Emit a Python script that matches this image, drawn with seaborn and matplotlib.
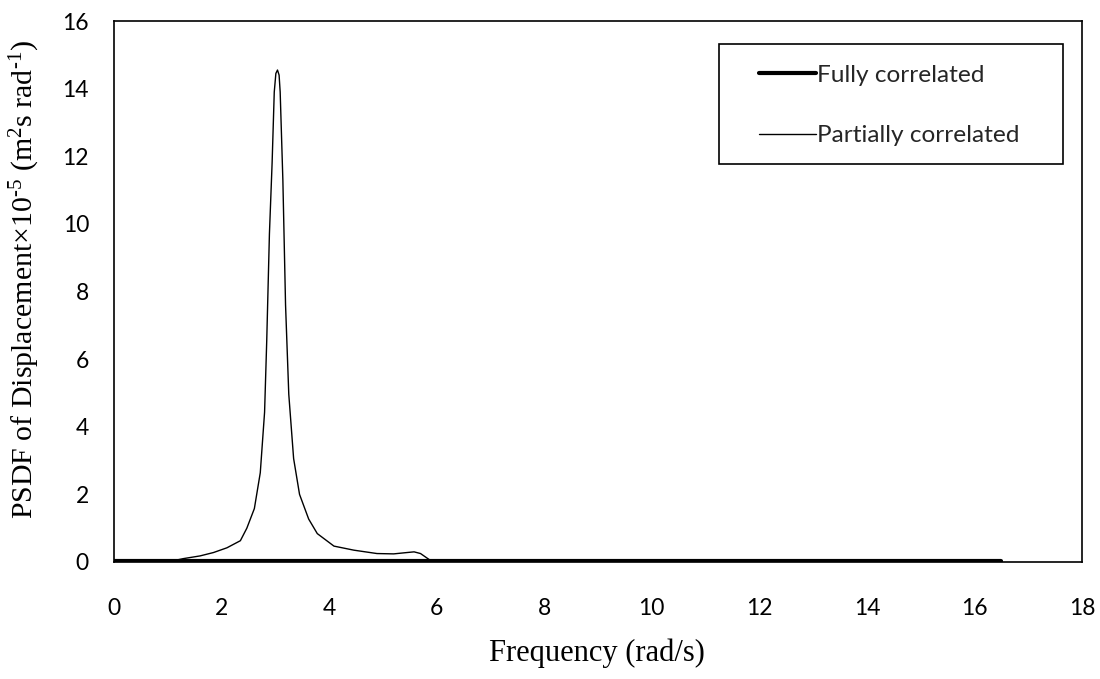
import matplotlib
matplotlib.use("Agg")
import matplotlib.pyplot as plt
import matplotlib.patches as mpatches
import seaborn as sns
import pandas as pd

# ---- data ----
freq_partial = [0.0, 0.5, 1.0, 1.11, 1.29, 1.60, 1.85, 2.10, 2.35, 2.47, 2.61, 2.72, 2.80,
                2.84, 2.89, 2.94, 2.98, 3.01, 3.04, 3.07, 3.09, 3.14, 3.19, 3.25, 3.34,
                3.45, 3.62, 3.78, 4.09, 4.46, 4.89, 5.20, 5.45, 5.58, 5.70, 5.89, 6.2,
                8.0, 10.0, 12.0, 14.0, 16.5]
psd_partial = [0.02, 0.02, 0.02, 0.04, 0.10, 0.18, 0.28, 0.42, 0.63, 1.00, 1.58, 2.64, 4.43,
               6.54, 9.70, 11.8, 13.9, 14.45, 14.55, 14.4, 13.9, 11.3, 7.6, 4.96, 3.06,
               2.00, 1.27, 0.84, 0.47, 0.35, 0.25, 0.24, 0.28, 0.30, 0.25, 0.04, 0.02,
               0.02, 0.02, 0.02, 0.02, 0.02]
freq_full = [0.0, 2.0, 4.0, 6.0, 8.0, 10.0, 12.0, 14.0, 16.5]
psd_full = [0.03, 0.03, 0.03, 0.03, 0.03, 0.03, 0.03, 0.03, 0.03]

x_ticks = [0, 2, 4, 6, 8, 10, 12, 14, 16, 18]
y_ticks = [0, 2, 4, 6, 8, 10, 12, 14, 16]

df_full = pd.DataFrame({"freq": freq_full, "psd": psd_full})
df_part = pd.DataFrame({"freq": freq_partial, "psd": psd_partial})

sns.set_theme(style="white")
sans = ["Lato", "DejaVu Sans"]
serif = ["Liberation Serif", "DejaVu Serif"]
plt.rcParams["font.family"] = sans
plt.rcParams["mathtext.fontset"] = "custom"
plt.rcParams["mathtext.rm"] = "Liberation Serif"
plt.rcParams["mathtext.it"] = "Liberation Serif:italic"

W, H = 1100, 679
fig = plt.figure(figsize=(11, 6.79), dpi=100)
L, R, T, B = 114, 1082, 21, 562
ax = fig.add_axes([L / W, 1 - B / H, (R - L) / W, (B - T) / H])

sns.lineplot(data=df_full, x="freq", y="psd", ax=ax, color="black", linewidth=3.0,
             label="Fully correlated", estimator=None, sort=False)
sns.lineplot(data=df_part, x="freq", y="psd", ax=ax, color="black", linewidth=1.0,
             label="Partially correlated", estimator=None, sort=False)

ax.set_xlim(0, 18)
ax.set_ylim(0, 16)
ax.set_xticks(x_ticks)
ax.set_yticks(y_ticks)
ax.tick_params(axis="x", length=0, labelsize=16.5, colors="black", pad=26)
ax.tick_params(axis="y", length=0, labelsize=16.5, colors="black", pad=18)
for lab in ax.get_xticklabels() + ax.get_yticklabels():
    lab.set_fontfamily(sans)

for s in ax.spines.values():
    s.set_visible(True)
    s.set_color("black")
    s.set_linewidth(1.2)

ax.set_xlabel("Frequency (rad/s)", fontsize=22, family=serif, color="black")
ax.set_ylabel("PSDF of Displacement\u00d710$^{\\mathrm{\u20105}}$ (m$^{\\mathrm{2}}$s rad$^{\\mathrm{\u20101}}$)",
              fontsize=21.5, family=serif, color="black")
ax.xaxis.set_label_coords((597 - L) / (R - L), -(638 - B) / (B - T))
ax.yaxis.set_label_coords(-(L - 42) / (R - L), (B - 280) / (B - T))

# legend entries without frame, frame drawn as a separate box
leg = ax.legend(loc="center left",
                bbox_to_anchor=((752 - L) / (R - L), (B - 105.5) / (B - T)),
                borderaxespad=0, frameon=False,
                fontsize=17.6, handlelength=2.3, handletextpad=0.05, labelspacing=1.6,
                borderpad=0.3)
for t in leg.get_texts():
    t.set_fontfamily(sans)
frame = mpatches.Rectangle((719 / W, 1 - 164 / H), (1063 - 719) / W, (164 - 44) / H,
                           transform=fig.transFigure, fill=False, edgecolor="black",
                           linewidth=1.2, zorder=5)
fig.add_artist(frame)

fig.savefig("out.png", dpi=100, facecolor="white")
